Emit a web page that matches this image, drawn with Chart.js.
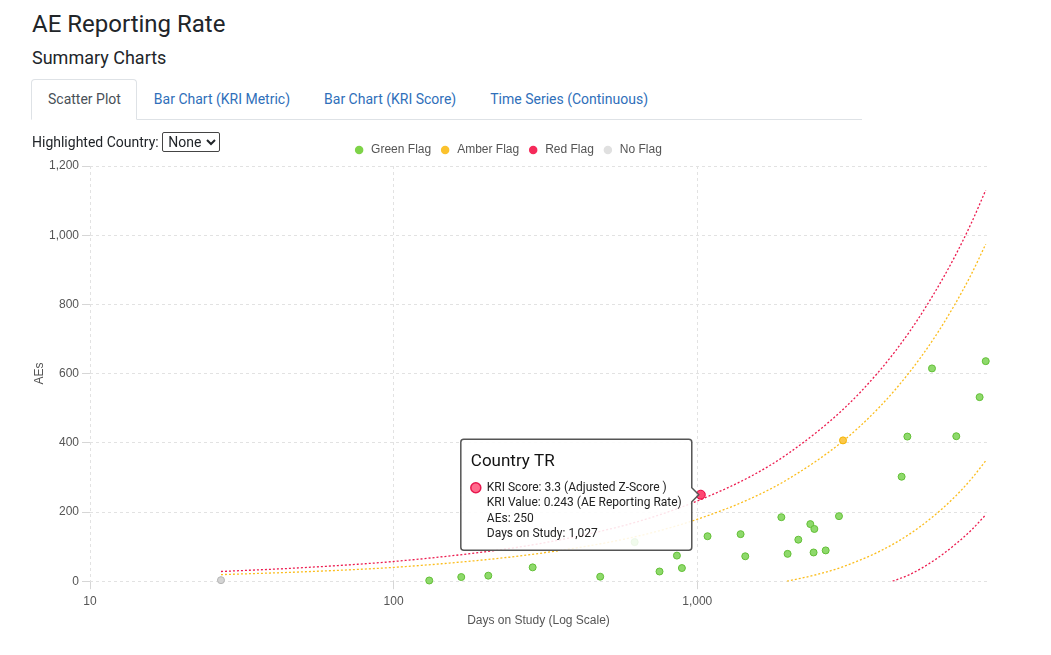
<!DOCTYPE html>
<html>
<head>
<meta charset="utf-8">
<title>AE Reporting Rate</title>
<script src="https://cdn.jsdelivr.net/npm/chart.js"></script>
<style>
    body { margin: 0; background: #fff; font-family: Roboto, sans-serif; color: #212529; }
    #page { position: relative; width: 1051px; height: 655px; overflow: hidden; }
    h1 { position: absolute; left: 32px; top: 9px; margin: 0; font-size: 24px; font-weight: 400; line-height: 30px; }
    h3 { position: absolute; left: 32px; top: 47px; margin: 0; font-size: 18px; font-weight: 400; line-height: 22px; }
    .tabs { position: absolute; left: 31px; top: 79px; width: 831px; height: 40px; border-bottom: 1px solid #dee2e6; margin: 0; padding: 0; list-style: none; display: flex; }
    .tabs li { font-size: 14px; line-height: 20px; padding: 9px 16px 11px; margin-bottom: -1px; color: #2f6fba; border: 1px solid transparent; border-radius: 4px 4px 0 0; }
    .tabs li.active { color: #495057; background: #fff; border-color: #dee2e6 #dee2e6 #fff; padding: 9px 15px 11px 16px; }
    .filter { position: absolute; left: 32px; top: 132px; font-size: 14px; line-height: 20px; }
    .filter select { font-family: Roboto, sans-serif; font-size: 14px; color: #212529; background: #fff; border: 1px solid #444; border-radius: 2px; padding: 0 1px; height: 20px; }
    #chart-box { position: absolute; left: 28px; top: 131px; width: 967px; height: 501px; }
</style>
</head>
<body>
<div id="page">
    <h1>AE Reporting Rate</h1>
    <h3>Summary Charts</h3>
    <ul class="tabs">
        <li class="active">Scatter Plot</li>
        <li>Bar Chart (KRI Metric)</li>
        <li>Bar Chart (KRI Score)</li>
        <li>Time Series (Continuous)</li>
    </ul>
    <div id="chart-box"><canvas id="scatter-chart"></canvas></div>
    <div class="filter">Highlighted Country: <select><option>None</option></select></div>
</div>
<script>
"use strict"

// sites per flag: days on study / number of AEs
const greenDays = [131, 167, 205, 287, 479, 622, 751, 857, 890, 1081, 1389, 1439, 1892, 1984, 2152, 2357, 2416, 2430, 2648, 2929, 4710, 4920, 5930, 7130, 8510, 8913]
const greenAEs = [2, 12, 16, 40, 13, 113, 28, 74, 38, 130, 136, 72, 185, 79, 120, 165, 83, 151, 89, 188, 302, 418, 615, 419, 532, 636]
const amberDays = [3020]
const amberAEs = [407]
const redDays = [1027]
const redAEs = [250]
const redCountries = ['TR']
const redScores = [3.3]
const redKriValues = [0.243]
const noFlagDays = [27]
const noFlagAEs = [3]

// flag thresholds
const upperDays = [27, 50, 100, 200, 300, 500, 700, 1000, 1500, 2000, 3000, 4000, 5000, 6000, 7000, 8000, 8913]
const upperRed = [28, 39, 57, 85, 108, 148, 183, 232, 303, 370, 494, 610, 721, 829, 933, 1036, 1130]
const upperAmber = [19, 27, 40, 62, 80, 111, 139, 179, 239, 296, 403, 505, 604, 700, 795, 888, 974]
const lowerAmberDays = [1975, 2500, 3000, 4000, 5000, 6000, 7000, 8000, 8913]
const lowerAmber = [0, 20, 41, 87, 136, 188, 241, 296, 348]
const lowerRedDays = [4400, 5000, 6000, 7000, 8000, 8913]
const lowerRed = [0, 19, 59, 103, 148, 192]

const flagNames = ['Green Flag', 'Amber Flag', 'Red Flag', 'No Flag']
const legendColors = ['#7ed348', '#fbc22d', '#f52a5a', '#e0e0e0']

const toPoints = (xs, ys) => xs.map((x, i) => ({ x: x, y: ys[i] }))

const pointSet = (label, xs, ys, bg, border) => ({
    label: label,
    data: toPoints(xs, ys),
    backgroundColor: bg,
    borderColor: border,
    borderWidth: 1,
    pointRadius: 3.5,
    pointHoverRadius: 4.5,
    pointHoverBorderWidth: 1
})

const boundSet = (label, xs, ys, color) => ({
    label: label,
    data: toPoints(xs, ys),
    showLine: true,
    borderColor: color,
    borderWidth: 1.3,
    borderDash: [2, 2],
    pointRadius: 0,
    pointHoverRadius: 0,
    pointHitRadius: 0,
    cubicInterpolationMode: 'monotone',
    fill: false
})

const isPowerOfTen = (v) => {
    const e = Math.round(Math.log10(v))
    return Math.abs(v - Math.pow(10, e)) < 1e-6
}

const ctx = document.getElementById('scatter-chart').getContext('2d')

const chart = new Chart(ctx, {
    type: 'scatter',
    data: {
        datasets: [
            pointSet(flagNames[0], greenDays, greenAEs, '#8ed96b', '#62bf36'),
            pointSet(flagNames[1], amberDays, amberAEs, '#fcc84a', '#f3b300'),
            pointSet(flagNames[2], redDays, redAEs, '#ff6b8d', '#e8174e'),
            pointSet(flagNames[3], noFlagDays, noFlagAEs, '#d4d4d4', '#b4b4b4'),
            boundSet('Upper red', upperDays, upperRed, '#ec1c4f'),
            boundSet('Upper amber', upperDays, upperAmber, '#fbbd1d'),
            boundSet('Lower amber', lowerAmberDays, lowerAmber, '#fbbd1d'),
            boundSet('Lower red', lowerRedDays, lowerRed, '#ec1c4f')
        ]
    },
    options: {
        responsive: true,
        maintainAspectRatio: false,
        animation: false,
        layout: {
            padding: { top: 5, right: 8 }
        },
        scales: {
            x: {
                type: 'logarithmic',
                min: 10,
                title: {
                    display: true,
                    text: 'Days on Study (Log Scale)',
                    color: '#555',
                    font: { size: 12 },
                    padding: { top: 0, bottom: 4 }
                },
                ticks: {
                    color: '#555',
                    font: { size: 12 },
                    padding: 5,
                    maxRotation: 0,
                    autoSkip: false,
                    callback: (value) => isPowerOfTen(value) ? value.toLocaleString('en-US') : null
                },
                grid: { color: '#e2e2e2', tickColor: '#d6d6d6', tickLength: 8 },
                border: { display: false, dash: [3, 3] }
            },
            y: {
                beginAtZero: true,
                afterFit: (scale) => { scale.width = 62 },
                title: { display: true, text: 'AEs', color: '#555', font: { size: 12 } },
                ticks: {
                    color: '#555',
                    font: { size: 12 },
                    stepSize: 200,
                    callback: (value) => value.toLocaleString('en-US')
                },
                grid: { color: '#e2e2e2', tickColor: '#d6d6d6', tickLength: 8 },
                border: { display: false, dash: [3, 3] }
            }
        },
        plugins: {
            legend: {
                position: 'top',
                labels: {
                    color: '#555',
                    font: { size: 12 },
                    padding: 8,
                    usePointStyle: true,
                    boxWidth: 12,
                    boxHeight: 6,
                    generateLabels: () => flagNames.map((name, i) => ({
                        text: name,
                        fillStyle: legendColors[i],
                        strokeStyle: legendColors[i],
                        lineWidth: 0,
                        pointStyle: 'circle',
                        fontColor: '#555',
                        hidden: false,
                        datasetIndex: i
                    }))
                }
            },
            tooltip: {
                xAlign: 'right',
                yAlign: 'center',
                backgroundColor: 'rgba(255, 255, 255, 0.88)',
                borderColor: '#555',
                borderWidth: 1.5,
                cornerRadius: 3,
                caretSize: 7,
                caretPadding: 2,
                padding: { top: 12, bottom: 9, left: 10, right: 10 },
                titleColor: '#111',
                bodyColor: '#222',
                titleFont: { family: 'Roboto', size: 17, weight: 'normal' },
                bodyFont: { family: 'Roboto', size: 12 },
                titleMarginBottom: 9,
                bodySpacing: 1,
                usePointStyle: true,
                boxWidth: 10,
                boxHeight: 10,
                boxPadding: 4,
                callbacks: {
                    title: (items) => `Country ${redCountries[items[0].dataIndex]}`,
                    label: (item) => {
                        const i = item.dataIndex
                        return [
                            `KRI Score: ${redScores[i]} (Adjusted Z-Score )`,
                            `KRI Value: ${redKriValues[i]} (AE Reporting Rate)`,
                            `AEs: ${redAEs[i]}`,
                            `Days on Study: ${redDays[i].toLocaleString('en-US')}`
                        ]
                    },
                    labelColor: () => ({ borderColor: '#e8174e', backgroundColor: '#ff6b8d', borderWidth: 1 }),
                    labelPointStyle: () => ({ pointStyle: 'circle', rotation: 0 })
                }
            }
        }
    }
})

// show the hovered Turkey point like in the dashboard
const active = [{ datasetIndex: 2, index: 0 }]
const meta = chart.getDatasetMeta(2).data[0]
chart.setActiveElements(active)
chart.tooltip.setActiveElements(active, { x: meta.x, y: meta.y })
chart.update('none')
</script>
</body>
</html>
